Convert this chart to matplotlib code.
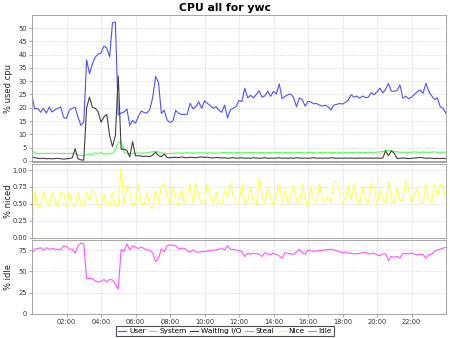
import numpy as np
import matplotlib
matplotlib.use('Agg')
import matplotlib.pyplot as plt
from matplotlib.ticker import FixedLocator, FuncFormatter

# one sample every 10 minutes, 00:00 -> 24:00 (hours)
hours = np.arange(145) / 6.0

user = [24.2, 19.5, 19.8, 18.3, 19.8, 18.0, 20.2, 18.4, 19.3, 19.8,
        20.3, 16.4, 16.0, 19.2, 19.8, 20.2, 16.5, 13.4, 14.5, 38.0,
        32.8, 36.5, 39.0, 40.2, 40.6, 43.2, 42.5, 39.2, 52.0, 52.2,
        17.3, 18.0, 18.4, 19.5, 13.4, 15.2, 14.2, 16.7, 18.8, 18.2,
        18.0, 19.5, 24.0, 31.8, 29.5, 17.9, 19.1, 15.4, 14.5, 15.0,
        19.0, 17.9, 17.5, 17.5, 17.6, 21.7, 19.6, 20.4, 22.3, 19.8,
        22.6, 21.7, 20.8, 19.8, 20.4, 19.1, 18.3, 21.0, 16.2, 19.2,
        19.8, 20.5, 22.8, 22.3, 27.4, 23.7, 24.7, 23.7, 25.0, 26.4,
        24.0, 24.5, 26.2, 24.3, 26.2, 25.2, 29.0, 23.4, 24.3, 24.9,
        25.2, 23.8, 20.4, 23.7, 23.1, 20.6, 22.4, 22.2, 21.5, 21.6,
        21.0, 20.6, 21.0, 20.4, 19.2, 21.0, 21.3, 21.6, 21.4, 22.0,
        22.9, 24.9, 24.0, 24.4, 23.6, 24.4, 23.8, 24.0, 25.7, 24.9,
        26.0, 27.4, 25.6, 27.0, 29.2, 26.2, 26.2, 26.5, 28.6, 23.6,
        24.3, 23.4, 24.0, 25.0, 26.0, 26.7, 25.4, 29.2, 26.2, 24.5,
        23.1, 23.7, 20.4, 19.8, 17.9]

system = [4.1, 3.0, 2.8, 2.9, 2.8, 2.9, 2.8, 2.9, 2.8, 2.9,
          2.8, 2.9, 2.8, 2.8, 2.9, 2.7, 2.2, 2.1, 2.0, 2.4,
          2.6, 2.4, 3.1, 2.6, 3.3, 2.5, 2.7, 2.6, 3.0, 4.2,
          6.8, 7.2, 3.0, 2.9, 2.8, 2.9, 2.9, 3.0, 2.9, 3.0,
          3.1, 3.3, 3.5, 3.5, 3.4, 3.0, 2.9, 2.7, 2.8, 2.9,
          2.9, 3.0, 2.9, 3.0, 3.1, 3.0, 2.9, 3.0, 3.1, 3.0,
          3.0, 2.9, 3.1, 3.0, 2.9, 3.0, 3.1, 3.2, 3.0, 3.1,
          3.0, 3.1, 3.2, 3.0, 3.1, 3.0, 3.2, 3.1, 3.0, 3.1,
          3.2, 3.0, 3.1, 3.1, 3.0, 3.2, 3.1, 3.0, 3.1, 3.2,
          3.1, 3.0, 3.1, 3.2, 3.1, 3.0, 3.1, 3.3, 3.1, 3.0,
          3.1, 3.2, 3.1, 3.0, 3.1, 3.2, 3.1, 3.1, 3.0, 3.2,
          3.1, 3.2, 3.1, 3.3, 3.2, 3.1, 3.2, 3.3, 3.2, 3.1,
          3.3, 3.4, 3.6, 3.8, 3.9, 3.7, 3.6, 3.4, 3.3, 3.2,
          3.3, 3.2, 3.3, 3.4, 3.3, 3.2, 3.4, 3.3, 3.2, 3.3,
          3.4, 3.3, 3.2, 3.3, 3.3]

iowait = [1.5, 1.2, 1.0, 0.9, 1.0, 0.8, 0.9, 0.8, 0.9, 1.0,
          0.8, 0.7, 0.8, 0.9, 1.2, 4.6, 0.8, 0.4, 0.3, 20.0,
          24.0, 20.2, 19.8, 18.5, 14.6, 16.5, 17.5, 9.5, 5.4, 9.5,
          32.0, 4.4, 4.4, 4.0, 1.5, 7.3, 1.9, 2.0, 1.8, 1.7,
          1.8, 1.6, 2.2, 3.3, 2.0, 1.6, 2.6, 1.3, 1.2, 1.3,
          1.4, 1.2, 1.5, 1.3, 1.2, 1.4, 1.3, 1.2, 1.4, 1.5,
          1.3, 1.4, 1.2, 1.1, 1.3, 1.2, 1.1, 1.2, 1.0, 1.1,
          1.2, 1.0, 1.1, 1.2, 1.0, 1.1, 1.0, 1.2, 1.1, 1.0,
          1.1, 1.2, 1.0, 1.1, 1.0, 1.1, 1.2, 1.0, 1.1, 1.0,
          1.1, 1.0, 1.2, 1.1, 1.0, 1.1, 1.0, 1.1, 1.2, 1.0,
          1.1, 1.0, 1.1, 1.0, 1.2, 1.1, 1.0, 1.1, 1.0, 1.1,
          1.0, 1.1, 1.0, 1.0, 1.1, 1.0, 1.1, 1.0, 1.1, 1.0,
          1.1, 1.0, 1.1, 3.8, 2.0, 3.8, 2.9, 0.9, 1.0, 1.1,
          1.0, 0.9, 1.0, 1.1, 1.2, 1.3, 1.2, 1.0, 1.1, 1.0,
          0.9, 1.0, 0.9, 1.0, 0.8]

steal = [0.0] * 145

nice = [0.00, 0.70, 0.46, 0.46, 0.68, 0.56, 0.46, 0.68, 0.55, 0.45,
        0.67, 0.66, 0.46, 0.67, 0.50, 0.46, 0.68, 0.50, 0.46, 0.67,
        0.55, 0.70, 0.64, 0.46, 0.46, 0.66, 0.50, 0.46, 0.67, 0.46,
        0.48, 1.04, 0.48, 0.77, 0.70, 0.48, 0.50, 0.80, 0.50, 0.48,
        0.67, 0.46, 0.43, 0.70, 0.52, 0.75, 0.80, 0.62, 0.50, 0.75,
        0.55, 0.49, 0.71, 0.50, 0.62, 0.80, 0.50, 0.81, 0.62, 0.50,
        0.51, 0.80, 0.60, 0.50, 0.68, 0.52, 0.50, 0.70, 0.60, 0.81,
        0.62, 0.50, 0.52, 0.79, 0.50, 0.55, 0.74, 0.52, 0.48, 0.89,
        0.62, 0.50, 0.73, 0.60, 0.48, 0.62, 0.79, 0.52, 0.70, 0.50,
        0.62, 0.78, 0.55, 0.50, 0.79, 0.58, 0.46, 0.75, 0.55, 0.52,
        0.80, 0.56, 0.54, 0.62, 0.52, 0.84, 0.80, 0.68, 0.52, 0.58,
        0.77, 0.56, 0.79, 0.58, 0.50, 0.75, 0.56, 0.52, 0.81, 0.72,
        0.50, 0.70, 0.58, 0.50, 0.83, 0.58, 0.50, 0.74, 0.55, 0.55,
        0.85, 0.72, 0.52, 0.62, 0.73, 0.52, 0.50, 0.79, 0.56, 0.52,
        0.80, 0.62, 0.79, 0.75, 0.58]

idle = [71.5, 76.3, 77.0, 78.0, 75.2, 78.0, 76.3, 77.0, 76.3, 76.0,
        75.5, 80.2, 79.4, 76.3, 76.3, 71.5, 80.2, 83.4, 82.6, 41.7,
        41.7, 41.5, 39.0, 37.4, 38.2, 40.5, 37.4, 40.5, 39.8, 35.0,
        28.7, 76.0, 73.4, 82.6, 75.5, 80.2, 78.7, 77.0, 78.7, 77.0,
        75.5, 75.0, 71.5, 61.7, 65.6, 76.3, 73.4, 80.2, 81.4, 81.0,
        80.2, 76.3, 77.4, 77.4, 74.6, 72.8, 75.5, 73.0, 72.7, 73.4,
        73.4, 74.2, 74.6, 75.0, 75.5, 76.3, 77.0, 75.5, 80.2, 76.3,
        76.0, 75.5, 74.5, 73.4, 67.6, 71.5, 70.3, 71.5, 71.0, 70.3,
        67.6, 72.3, 70.7, 69.6, 71.5, 70.0, 68.4, 65.6, 72.3, 71.5,
        70.7, 70.3, 73.0, 76.3, 72.3, 70.3, 75.5, 74.5, 73.4, 74.6,
        74.6, 74.6, 75.5, 75.8, 76.3, 75.5, 74.6, 73.5, 72.3, 73.0,
        71.5, 71.5, 70.7, 71.0, 71.5, 72.3, 72.3, 70.7, 71.0, 71.5,
        69.6, 68.4, 70.7, 70.7, 62.9, 67.6, 66.9, 67.6, 65.6, 71.5,
        71.0, 70.7, 71.5, 70.5, 69.6, 70.3, 70.0, 65.6, 69.6, 70.7,
        73.4, 75.5, 76.3, 77.5, 78.7]

xticks = [2, 4, 6, 8, 10, 12, 14, 16, 18, 20, 22]

plt.rcParams['font.family'] = ['DejaVu Sans']

fig = plt.figure(figsize=(4.5, 3.38), dpi=100)
fig.patch.set_facecolor('white')

ax1 = fig.add_axes([32/450, 1 - 162/338, 414/450, 147/338])
ax2 = fig.add_axes([32/450, 1 - 237.7/338, 414/450, 73.7/338])
ax3 = fig.add_axes([32/450, 1 - 313.7/338, 414/450, 73.4/338])

lw = 0.8
h_user, = ax1.plot(hours, user, color='#5050ff', lw=lw, label='User')
h_sys, = ax1.plot(hours, system, color='#50ff50', lw=lw, label='System')
h_io, = ax1.plot(hours, iowait, color='#404040', lw=lw, label='Waiting I/O')
h_steal, = ax1.plot(hours, steal, color='#ff8080', lw=lw, label='Steal')
h_nice, = ax2.plot(hours, nice, color='#ffff50', lw=lw, label='Nice')
h_idle, = ax3.plot(hours, idle, color='#ff50ff', lw=lw, label='Idle')

ax1.set_ylim(-0.4, 54.9)
ax1.set_yticks(range(0, 55, 5))
ax2.set_ylim(0, 1.09)
ax2.set_yticks([0, 0.25, 0.5, 0.75, 1.0])
ax2.yaxis.set_major_formatter(FuncFormatter(lambda v, p: '%.2f' % v))
ax3.set_ylim(0, 86.8)
ax3.set_yticks([0, 25, 50, 75])

for ax, lab in ((ax1, '% used cpu'), (ax2, '% niced'), (ax3, '% idle')):
    ax.set_ylabel(lab, fontsize=6, color='#222222')
    ax.yaxis.set_label_coords(-19/414, 0.5)

for ax in (ax1, ax2, ax3):
    ax.set_xlim(0, 24)
    ax.xaxis.set_major_locator(FixedLocator(xticks))
    ax.xaxis.set_major_formatter(FuncFormatter(lambda v, p: '%02d:00' % int(round(v))))
    ax.grid(True, color='#cccccc', lw=0.5, ls=(0, (2, 2)))
    ax.set_axisbelow(True)
    ax.tick_params(labelsize=4.8, length=2, width=0.5, color='#888888',
                   labelcolor='#333333', pad=1.5)
    for s in ax.spines.values():
        s.set_color('#999999')
        s.set_linewidth(0.6)
ax1.tick_params(axis='x', labelbottom=False, length=0)
ax2.tick_params(axis='x', labelbottom=False, length=0)

fig.text(0.5, 1 - 8/338, 'CPU all for ywc', fontsize=7.8, fontweight='bold',
         ha='center', va='center')

leg = fig.legend(handles=[h_user, h_sys, h_io, h_steal, h_nice, h_idle],
                 loc='center', bbox_to_anchor=(225/450, 1 - 331/338), ncol=6,
                 fontsize=5.3, frameon=True, fancybox=False, handlelength=1.1,
                 handletextpad=0.35, columnspacing=0.45, borderpad=0.25,
                 borderaxespad=0)
leg.get_frame().set_edgecolor('#222222')
leg.get_frame().set_linewidth(0.8)

fig.savefig('out.png', dpi=100)
